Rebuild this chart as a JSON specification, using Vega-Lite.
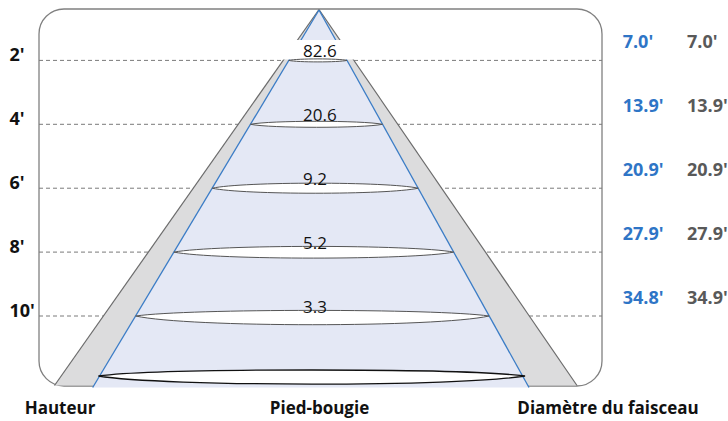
{
  "$schema": "https://vega.github.io/schema/vega-lite/v6.json",
  "width": 728,
  "height": 421,
  "padding": 0,
  "autosize": {"type": "none"},
  "background": "white",
  "config": {"view": {"stroke": null}, "text": {"font": "Open Sans"}},
  "datasets": {
    "levels": [
      {"h": 2, "hl": "2'", "fc": "82.6", "d1": "7.0'", "d2": "7.0'", "cx": 317.9},
      {"h": 4, "hl": "4'", "fc": "20.6", "d1": "13.9'", "d2": "13.9'", "cx": 316.5},
      {"h": 6, "hl": "6'", "fc": "9.2", "d1": "20.9'", "d2": "20.9'", "cx": 315.2},
      {"h": 8, "hl": "8'", "fc": "5.2", "d1": "27.9'", "d2": "27.9'", "cx": 313.8},
      {"h": 10, "hl": "10'", "fc": "3.3", "d1": "34.8'", "d2": "34.9'", "cx": 312.4}
    ],
    "box": [{"x1": 39, "x2": 602, "y1": 0.391, "y2": 12.19}],
    "outer": [{"y": 0.407, "xl": 319, "xr": 319}, {"y": 12.175, "xl": 54.5, "xr": 577}],
    "inner": [{"y": 0.423, "xl": 319, "xr": 319}, {"y": 12.238, "xl": 92.7, "xr": 529}],
    "outerSides": [
      {"x1": 319, "y1": 0.407, "x2": 54.5, "y2": 12.175},
      {"x1": 319, "y1": 0.407, "x2": 577, "y2": 12.175}
    ],
    "innerSides": [
      {"x1": 319, "y1": 0.423, "x2": 92.7, "y2": 12.238},
      {"x1": 319, "y1": 0.423, "x2": 529, "y2": 12.238}
    ],
    "band": [{"x1": 278, "x2": 360, "y1": 1.362, "y2": 1.972}],
    "base": [{"cx": 311.75, "y": 11.878}],
    "titles": [
      {"t": "Hauteur", "x": 60},
      {"t": "Pied-bougie", "x": 319.5},
      {"t": "Diamètre du faisceau", "x": 608}
    ]
  },
  "layer": [
    {
      "data": {"name": "box"},
      "mark": {"type": "rect", "cornerRadius": 25, "fill": null, "fillOpacity": 0, "stroke": "#808080", "strokeWidth": 1.3},
      "encoding": {
        "x": {"field": "x1", "type": "quantitative", "scale": {"domain": [0, 728], "nice": false, "zero": false}, "axis": null},
        "x2": {"field": "x2"},
        "y": {"field": "y1", "type": "quantitative", "scale": {"domain": [0.1095, 13.286], "reverse": true, "nice": false, "zero": false}, "axis": null},
        "y2": {"field": "y2"}
      }
    },
    {
      "data": {"name": "levels"},
      "mark": {"type": "rule", "stroke": "#7a7a7a", "strokeWidth": 1, "strokeDash": [4, 3]},
      "encoding": {
        "x": {"datum": 39, "type": "quantitative"},
        "x2": {"datum": 602},
        "y": {"field": "h", "type": "quantitative"}
      }
    },
    {
      "data": {"name": "outer"},
      "mark": {"type": "area", "orient": "horizontal", "fill": "#dcdcdd", "stroke": null},
      "encoding": {
        "y": {"field": "y", "type": "quantitative"},
        "x": {"field": "xl", "type": "quantitative"},
        "x2": {"field": "xr"}
      }
    },
    {
      "data": {"name": "inner"},
      "mark": {"type": "area", "orient": "horizontal", "fill": "#e4e8f5", "stroke": null},
      "encoding": {
        "y": {"field": "y", "type": "quantitative"},
        "x": {"field": "xl", "type": "quantitative"},
        "x2": {"field": "xr"}
      }
    },
    {
      "data": {"name": "outerSides"},
      "mark": {"type": "rule", "stroke": "#6b6b6b", "strokeWidth": 1.2},
      "encoding": {
        "x": {"field": "x1", "type": "quantitative"},
        "x2": {"field": "x2"},
        "y": {"field": "y1", "type": "quantitative"},
        "y2": {"field": "y2"}
      }
    },
    {
      "data": {"name": "innerSides"},
      "mark": {"type": "rule", "stroke": "#3a7cc6", "strokeWidth": 1.3},
      "encoding": {
        "x": {"field": "x1", "type": "quantitative"},
        "x2": {"field": "x2"},
        "y": {"field": "y1", "type": "quantitative"},
        "y2": {"field": "y2"}
      }
    },
    {
      "data": {"name": "band"},
      "mark": {"type": "rect", "fill": "white", "stroke": null},
      "encoding": {
        "x": {"field": "x1", "type": "quantitative"},
        "x2": {"field": "x2"},
        "y": {"field": "y1", "type": "quantitative"},
        "y2": {"field": "y2"}
      }
    },
    {
      "data": {"name": "levels"},
      "mark": {"type": "point", "filled": false, "fill": "white", "fillOpacity": 1, "stroke": "#555555", "strokeWidth": 1, "opacity": 1, "size": 4},
      "encoding": {
        "x": {"field": "cx", "type": "quantitative"},
        "y": {"field": "h", "type": "quantitative"},
        "shape": {
          "field": "h",
          "type": "nominal",
          "legend": null,
          "scale": {
            "domain": [2, 4, 6, 8, 10],
            "range": [
              "M-29.1,0C-20.4,-2 20.4,-2 29.1,0C20.4,2 -20.4,2 -29.1,0Z",
              "M-66,0C-46.2,-4 46.2,-4 66,0C46.2,4 -46.2,4 -66,0Z",
              "M-103,0C-72.1,-6.7 72.1,-6.7 103,0C72.1,6.7 -72.1,6.7 -103,0Z",
              "M-139.9,0C-97.9,-7.6 97.9,-7.6 139.9,0C97.9,8 -97.9,8 -139.9,0Z",
              "M-176.7,0C-123.7,-7.5 123.7,-7.5 176.7,0C123.7,11.6 -123.7,11.6 -176.7,0Z"
            ]
          }
        }
      }
    },
    {
      "data": {"name": "base"},
      "mark": {"type": "point", "filled": false, "fill": "white", "fillOpacity": 1, "stroke": "#111111", "strokeWidth": 1.3, "opacity": 1, "size": 4,
        "shape": "M-213.3,0C-149.3,-8 149.3,-8 213.3,0C149.3,10.7 -149.3,10.7 -213.3,0Z"},
      "encoding": {
        "x": {"field": "cx", "type": "quantitative"},
        "y": {"field": "y", "type": "quantitative"}
      }
    },
    {
      "data": {"name": "levels"},
      "mark": {"type": "text", "align": "left", "baseline": "alphabetic", "dy": -3, "fontSize": 17, "color": "#111111"},
      "encoding": {
        "x": {"datum": 303, "type": "quantitative"},
        "y": {"field": "h", "type": "quantitative"},
        "text": {"field": "fc"}
      }
    },
    {
      "data": {"name": "levels"},
      "mark": {"type": "text", "align": "left", "baseline": "middle", "dy": -4, "fontSize": 18, "fontWeight": "bold", "color": "#111111"},
      "encoding": {
        "x": {"datum": 9.5, "type": "quantitative"},
        "y": {"field": "h", "type": "quantitative"},
        "text": {"field": "hl"}
      }
    },
    {
      "data": {"name": "levels"},
      "mark": {"type": "text", "align": "left", "baseline": "middle", "dy": -17, "fontSize": 18, "fontWeight": "bold", "color": "#2e75c6"},
      "encoding": {
        "x": {"datum": 622.7, "type": "quantitative"},
        "y": {"field": "h", "type": "quantitative"},
        "text": {"field": "d1"}
      }
    },
    {
      "data": {"name": "levels"},
      "mark": {"type": "text", "align": "left", "baseline": "middle", "dy": -17, "fontSize": 18, "fontWeight": "bold", "color": "#595959"},
      "encoding": {
        "x": {"datum": 687, "type": "quantitative"},
        "y": {"field": "h", "type": "quantitative"},
        "text": {"field": "d2"}
      }
    },
    {
      "data": {"name": "titles"},
      "mark": {"type": "text", "align": "center", "baseline": "alphabetic", "fontSize": 17, "fontWeight": "bold", "color": "#111111"},
      "encoding": {
        "x": {"field": "x", "type": "quantitative"},
        "y": {"datum": 13.067, "type": "quantitative"},
        "text": {"field": "t"}
      }
    }
  ]
}
